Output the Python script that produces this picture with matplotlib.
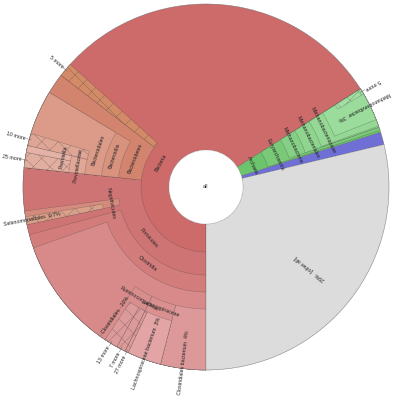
import numpy as np
import matplotlib
matplotlib.use("Agg")
import matplotlib.pyplot as plt
from matplotlib.patches import Wedge, Circle

plt.rcParams["hatch.linewidth"] = 0.3

# krona-like hierarchy, values in % of all reads, children in drawing order
# '' = unassigned part of the parent (not drawn)
names = ["Bacteria", "Firmicutes", "Clostridia", "Clostridiales",
         "Clostridiales bacterium", "Lachnospiraceae", "Lachnospiraceae bacterium", "27 more",
         "Ruminococcaceae", "7 more", "13 more", "",
         "", "", "Negativicutes", "Selenomonadales",
         "Bacteroidetes", "Bacteroidia", "Bacteroidales", "Prevotellaceae", "25 more", "Prevotella",
         "10 more", "5 more",
         "Archaea", "Euryarchaeota", "Methanobacteria", "Methanobacteriales", "Methanobacteriaceae",
         "Methanobrevibacter", "5 more ", "", "", "",
         "Eukaryota", "[other all]"]
parents = [None, "Bacteria", "Firmicutes", "Clostridia",
           "Clostridiales", "Clostridiales", "Lachnospiraceae", "Lachnospiraceae",
           "Clostridiales", "Ruminococcaceae", "Ruminococcaceae", "Clostridiales",
           "Clostridia", "Firmicutes", "Firmicutes", "Negativicutes",
           "Bacteria", "Bacteroidetes", "Bacteroidia", "Bacteroidales", "Prevotellaceae", "Prevotellaceae",
           "Bacteroidales", "Bacteria",
           None, "Archaea", "Euryarchaeota", "Methanobacteria", "Methanobacteriales",
           "Methanobacteriaceae", "Methanobrevibacter", "Methanobacteriaceae", "Methanobacteriaceae",
           "Methanobacteriaceae",
           None, None]
values = [66.0, 26.7, 20.8, 19.6,
          4.0, 3.3, 3.0, 0.3,
          2.5, 0.8, 1.2, 0.0,
          1.2, 0.9, 1.2, 0.7,
          8.75, 6.94, 6.94, 1.94, 1.33, 0.61,
          1.1, 1.25,
          4.17, 4.0, 3.7, 3.7, 3.6,
          3.0, 0.5, 0.2, 0.2, 0.15,
          1.1, 28.73]
colors = ["#cd6b6b", "#cf7474", "#d37c7c", "#d88a8a",
          "#dd9999", "#da9090", "#e2a4a4", "#dc9a9a",
          "#d98e8e", "#dc9a9a", "#dc9a9a", "#000000",
          "#dc9a9a", "#000000", "#d48a7c", "#d9a08a",
          "#d2846f", "#d8937f", "#dc9b88", "#e0a797", "#e2ae9f", "#e4b2a6",
          "#dfa595", "#d28b66",
          "#6cc46c", "#79c979", "#86cf86", "#8fd48f", "#95d795",
          "#9bdb9b", "#a3dfa3", "#8fd3c0", "#9ad8cd", "#8fd3c0",
          "#6f6fd6", "#dcdcdc"]
hatched = ["more" in n or n in ("Selenomonadales",) or i == 12 for i, n in enumerate(names)]
# t = along the ring, o = radial outside, m = 'N more' outside, i = radial near rim, g = radial mid
label_modes = ["t", "t", "t", "i",
               "o", "t", "o", "m",
               "t", "m", "m", "",
               "", "", "t", "o",
               "t", "t", "t", "t", "m", "t",
               "m", "m",
               "t", "t", "t", "t", "t",
               "o", "m", "", "", "",
               "", "g"]

ring_r = [37, 65, 88, 105, 122, 138, 153, 168]
R = 183
cx, cy = 206, 187

fig = plt.figure(figsize=(3.94, 4.09), dpi=100)
ax = fig.add_axes([0, 0, 1, 1])
ax.set_xlim(0, 394)
ax.set_ylim(409, 0)
ax.axis("off")

depth = {}
cursor = {None: 180.0}
spans = []
for n, p, v in zip(names, parents, values):
    d = 0 if p is None else depth[p] + 1
    a1 = cursor[p]
    a2 = a1 + v * 3.6
    cursor[p] = a2
    if n and n not in depth:
        depth[n] = d
        cursor[n] = a1
    spans.append((a1, a2, d))


def pos(a, r):
    t = np.radians(a)
    return cx + r * np.sin(t), cy - r * np.cos(t)


def pct(v):
    return f"{v:.1f}%" if v < 1 else f"{round(v)}%"


txt = dict(fontsize=3.75, family="Liberation Sans", color="#222222", rotation_mode="anchor")

for i, n in enumerate(names):
    a1, a2, d = spans[i]
    if not n or a2 <= a1:
        continue
    r0 = ring_r[d]
    w = Wedge((cx, cy), R, a1 - 90, a2 - 90, width=R - r0, facecolor=colors[i],
              edgecolor=(0.25, 0.25, 0.25, 0.5), linewidth=0.3,
              hatch="xx" if hatched[i] else None)
    ax.add_patch(w)

for i, n in enumerate(names):
    a1, a2, d = spans[i]
    mode = label_modes[i]
    if not n or not mode:
        continue
    a = (a1 + a2) / 2
    right = 0 < a < 180
    rad_rot = (90 - a) if right else (270 - a)
    rad_rot = (rad_rot + 180) % 360 - 180
    if mode == "t":
        r = (ring_r[d] + ring_r[d + 1]) / 2
        rot = ((90 - a) % 180) - 90
        x, y = pos(a, r)
        ax.text(x, y, n, rotation=rot, ha="center", va="center", **txt)
    elif mode == "i":
        x, y = pos(a, R - 4)
        ax.text(x, y, f"{n}   {pct(values[i])}", rotation=rad_rot,
                ha="right" if right else "left", va="center", **txt)
    elif mode == "g":
        x, y = pos(a, 132)
        ax.text(x, y, f"{pct(values[i])}   {n}", rotation=rad_rot, ha="center", va="center", **txt)
    elif mode == "o":
        s = f"{pct(values[i])}  {n}" if right else f"{n}  {pct(values[i])}"
        x, y = pos(a, 177)
        ax.text(x, y, s, rotation=rad_rot, ha="center", va="center", **txt)
    elif mode == "m":
        x0, y0 = pos(a, R - 2)
        x1, y1 = pos(a, R + 3)
        ax.plot([x0, x1], [y0, y1], color="#555555", lw=0.3)
        x, y = pos(a, R + 4)
        ax.text(x, y, n.strip(), rotation=rad_rot,
                ha="left" if right else "right", va="center", **txt)

ax.add_patch(Circle((cx, cy), ring_r[0], facecolor="white", edgecolor="#999999",
                    linewidth=0.4, linestyle=(0, (1, 1))))
ax.add_patch(Circle((cx, cy), R, facecolor="none", edgecolor="#888888",
                    linewidth=0.4, linestyle=(0, (1, 1))))
ax.text(cx, cy, "all", ha="center", va="center", fontsize=3.75, family="Liberation Sans",
        color="#222222")

fig.savefig("out.png", dpi=100)
